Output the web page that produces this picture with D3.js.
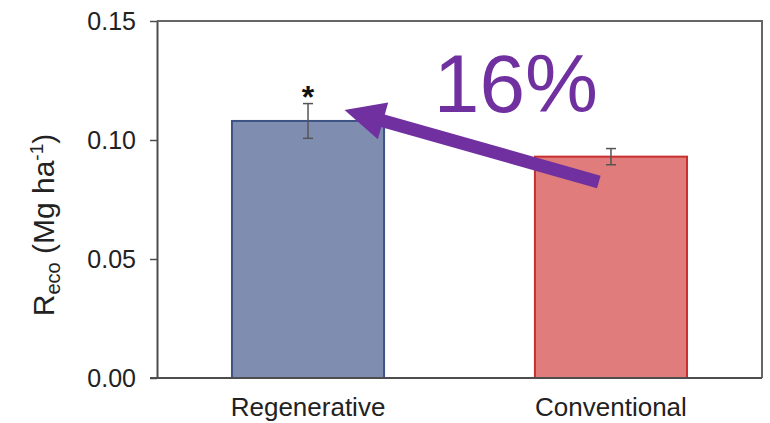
<!DOCTYPE html>
<html>
<head>
<meta charset="utf-8">
<script src="https://cdn.jsdelivr.net/npm/d3@7"></script>
<style>
  html, body { margin: 0; padding: 0; background: #fff; }
  svg { display: block; font-family: "Liberation Sans", Arial, sans-serif; }
</style>
</head>
<body>
<svg id="chart" width="770" height="423"></svg>
<script>
// Ecosystem respiration by management system
const categories = ["Regenerative", "Conventional"];
const means = [0.108, 0.093];
const errors = [0.0073, 0.0034];
const significance = ["*", ""];
const yTicks = [0.00, 0.05, 0.10, 0.15];
const fills = ["#7f8eb0", "#e07c7b"];
const strokes = ["#3e5384", "#c8302f"];
// Annotation: percent difference, arrow from Conventional up to Regenerative
const annotationText = "16%";
const arrowFrom = { cat: "Conventional", frac: 0.42, value: 0.0824 };
const arrowTo = { cat: "Regenerative", frac: 0.74, value: 0.1126 };
const annotationAt = { cat: "Conventional", frac: -0.125, value: 0.1118 };

const W = 770, H = 423;
const margin = { top: 21, right: 8, bottom: 45, left: 157 };

const svg = d3.select("#chart");

const x = d3.scaleBand()
  .domain(categories)
  .range([margin.left, W - margin.right])
  .paddingInner(0.498)
  .paddingOuter(0.2475);

const y = d3.scaleLinear()
  .domain([0, 0.15])
  .range([H - margin.bottom, margin.top]);

const axisColor = "#4d4d4d";

// Frame (top and right sides)
svg.append("path")
  .attr("d", `M${margin.left},${margin.top}H${W - margin.right}V${H - margin.bottom}`)
  .attr("fill", "none")
  .attr("stroke", "#666")
  .attr("stroke-width", 2);

// Bars
const bars = svg.append("g");
bars.selectAll("rect")
  .data(categories)
  .join("rect")
  .attr("x", d => x(d))
  .attr("y", (d, i) => y(means[i]))
  .attr("width", x.bandwidth())
  .attr("height", (d, i) => y(0) - y(means[i]))
  .attr("fill", (d, i) => fills[i])
  .attr("stroke", (d, i) => strokes[i])
  .attr("stroke-width", 2);

// Error bars
const eb = svg.append("g").attr("stroke", "#555").attr("stroke-width", 1.5);
categories.forEach((c, i) => {
  const cx = x(c) + x.bandwidth() / 2;
  const y1 = y(means[i] + errors[i]), y2 = y(means[i] - errors[i]);
  eb.append("line").attr("x1", cx).attr("x2", cx).attr("y1", y1).attr("y2", y2);
  eb.append("line").attr("x1", cx - 5).attr("x2", cx + 5).attr("y1", y1).attr("y2", y1);
  eb.append("line").attr("x1", cx - 5).attr("x2", cx + 5).attr("y1", y2).attr("y2", y2);
});

// Significance markers
svg.append("g").selectAll("text")
  .data(categories)
  .join("text")
  .attr("x", d => x(d) + x.bandwidth() / 2)
  .attr("y", (d, i) => y(means[i] + errors[i]) + 4)
  .attr("text-anchor", "middle")
  .attr("font-size", 32)
  .attr("font-weight", "bold")
  .attr("fill", "#111")
  .text((d, i) => significance[i]);

// Y axis
const yAxis = svg.append("g")
  .attr("transform", `translate(${margin.left},0)`)
  .call(d3.axisLeft(y).tickValues(yTicks).tickFormat(d3.format(".2f")).tickSize(7).tickSizeOuter(0).tickPadding(14));
yAxis.select(".domain").attr("stroke", axisColor).attr("stroke-width", 2);
yAxis.selectAll(".tick line").attr("stroke", axisColor).attr("stroke-width", 1.5);
yAxis.selectAll(".tick text").attr("font-size", 25).attr("fill", "#222")
  .attr("font-family", "Liberation Sans, Arial, sans-serif");

// X axis
const xAxis = svg.append("g")
  .attr("transform", `translate(0,${H - margin.bottom})`)
  .call(d3.axisBottom(x).tickSize(0).tickPadding(20));
xAxis.select(".domain").attr("stroke", axisColor).attr("stroke-width", 2)
  .attr("d", `M${margin.left - 7},0H${W - margin.right}`);
xAxis.selectAll(".tick text").attr("font-size", 26).attr("fill", "#222")
  .attr("font-family", "Liberation Sans, Arial, sans-serif");

// Y axis title with subscript and superscript
const yl = svg.append("text")
  .attr("transform", `translate(54,225) rotate(-90)`)
  .attr("text-anchor", "middle")
  .attr("font-size", 30)
  .attr("fill", "#222");
yl.append("tspan").text("R");
yl.append("tspan").attr("font-size", 20).attr("dy", 6).text("eco");
yl.append("tspan").attr("dy", -6).text(" (Mg ha");
yl.append("tspan").attr("font-size", 19).attr("dy", -11).text("-1");
yl.append("tspan").attr("dy", 11).text(")");

// Annotation arrow
const purple = "#7030a0";
const px = a => x(a.cat) + x.bandwidth() * a.frac;
const tail = [px(arrowFrom), y(arrowFrom.value)];
const tip = [px(arrowTo), y(arrowTo.value)];
const dx = tip[0] - tail[0], dy = tip[1] - tail[1];
const len = Math.hypot(dx, dy);
const ux = dx / len, uy = dy / len;
const headLen = 40, headHalf = 19;
const base = [tip[0] - ux * headLen, tip[1] - uy * headLen];
svg.append("line")
  .attr("x1", tail[0]).attr("y1", tail[1])
  .attr("x2", base[0] + ux * 4).attr("y2", base[1] + uy * 4)
  .attr("stroke", purple).attr("stroke-width", 13);
svg.append("polygon")
  .attr("points", [
    tip,
    [base[0] - uy * headHalf, base[1] + ux * headHalf],
    [base[0] + uy * headHalf, base[1] - ux * headHalf]
  ].map(p => p.join(",")).join(" "))
  .attr("fill", purple);

svg.append("text")
  .attr("x", px(annotationAt))
  .attr("y", y(annotationAt.value))
  .attr("text-anchor", "middle")
  .attr("font-size", 82)
  .attr("fill", purple)
  .text(annotationText);
</script>
</body>
</html>
